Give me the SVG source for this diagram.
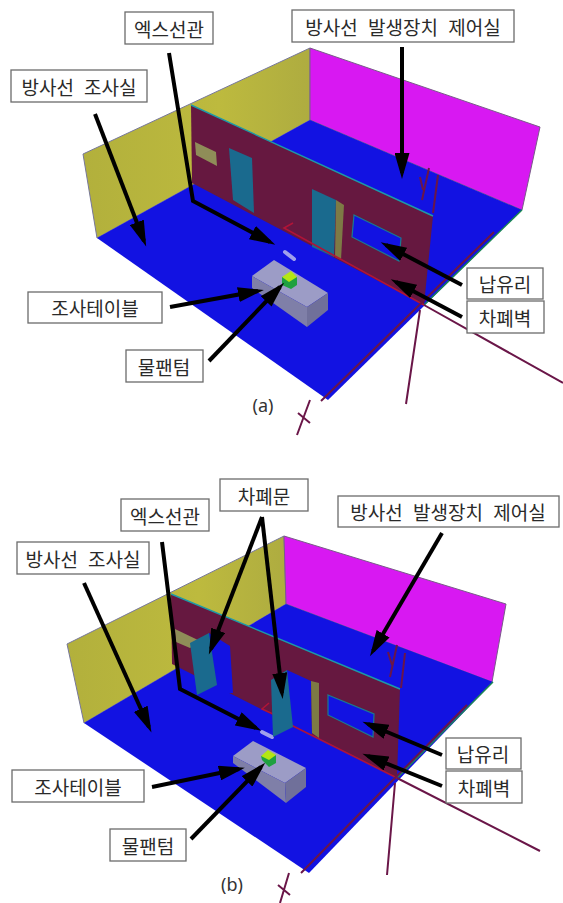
<svg xmlns="http://www.w3.org/2000/svg" width="563" height="903" viewBox="0 0 563 903">
<style>
.box{fill:#fff;stroke:#6b6b6b;stroke-width:1.3}
.t{font-family:"Noto Sans CJK KR","Noto Sans",sans-serif;font-size:19px;fill:#2a2a2a;text-anchor:middle;dominant-baseline:central;word-spacing:6px}
.cap{font-family:"Noto Sans","Liberation Sans",sans-serif;font-size:18px;fill:#333;text-anchor:middle;dominant-baseline:central}
.floor{fill:#1212e2}
.yellow{fill:url(#gy);stroke:#77779a;stroke-width:1}
.mag{fill:#d818f2;stroke:#7a5a8a;stroke-width:1}
.wall{fill:#661840}
.door{fill:#1a6a8e}
.olive{fill:#8f8d58}
.strip{fill:#7d7a45}
.hole{fill:#1212e2;stroke:#1a7a90;stroke-width:1.2}
.top{fill:#9c9cc6}.front{fill:#7f7fa8}.side{fill:#70709a}
.py{fill:#b4e614}.pg{fill:#1fa040}
.tube{stroke:#a0a0ec;stroke-width:4;stroke-linecap:round;fill:none}
.m{stroke:#6a1648;stroke-width:2;fill:none}
.r{stroke:#b01438;stroke-width:1.6;fill:none}
.edge{stroke:#1c9aa8;stroke-width:1.4;fill:none}
.g{stroke:#1a8a50;stroke-width:1.4;fill:none}
.a{stroke:#000;stroke-width:4;fill:none;marker-end:url(#ah)}
</style>
<defs>
<linearGradient id="gy" x1="0" y1="0" x2="1" y2="0"><stop offset="0" stop-color="#b2b03c"/><stop offset="0.6" stop-color="#bdba3e"/><stop offset="1" stop-color="#aeac40"/></linearGradient>
<marker id="ah" markerUnits="userSpaceOnUse" markerWidth="28" markerHeight="15" refX="20" refY="7.5" orient="auto"><path d="M0 0L26 7.5L0 15Z" fill="#000"/></marker>
</defs>

<g id="scene-a">
<polygon class="yellow" points="83,154 310,48 310,120 97,238"/>
<polygon class="mag" points="310,48 540,127 522,210 310,120"/>
<polygon class="floor" points="97,238 310,120 522,210 328,400"/>
<path class="g" d="M522,210L424,305"/>
<polygon class="wall" points="191,105 433,216 424,305 192,183"/>
<path class="edge" d="M191,105L433,216"/>
<polygon class="olive" points="195,142 216,152 217,166 196,155"/>
<polygon class="door" points="229,148 252,158 254,213 233,200"/>
<polygon class="door" points="312,189 336,200 334,257 312,247"/>
<polygon class="strip" points="336,200 344,205 341,260 335,257"/>
<polygon class="hole" points="354,215 401,238 399,261 352,237"/>
<path class="r" d="M293,223L284,228L424,305"/>
<path class="m" d="M494,232L321,401M420,310L406,404M424,305L563,383M310,400L297,435M298,413L310,423M429,168L422,200M420,177L423,190M438,175L433,213"/>
<path class="tube" d="M285,252L294,259"/>
<polygon class="top" points="252,276 274,260 328,293 307,307"/>
<polygon class="front" points="252,276 307,307 307,327 252,288"/>
<polygon class="side" points="307,307 328,293 328,310 307,327"/>
<polygon class="pg" points="282,277 297,277 297,285 291,289 282,285"/>
<polygon class="py" points="282,277 291,271 297,277 289,282"/>
</g>

<g id="scene-b">
<polygon class="yellow" points="67,644 284,536 286,604 84,723"/>
<polygon class="mag" points="284,536 506,604 492,682 286,604"/>
<polygon class="floor" points="84,723 286,604 493,682 309,873"/>
<path class="g" d="M493,682L397,778"/>
<polygon class="wall" points="171,594 400,689 397,778 172,664"/>
<path class="edge" d="M171,594L400,689"/>
<polygon class="olive" points="175,629 200,641 190,648 176,642"/>
<polygon class="floor" points="209,633 230,646 233,693 200,693"/>
<polygon class="floor" points="287,670 311,681 312,735 291,725"/>
<polygon class="strip" points="311,681 319,683 319,738 312,733"/>
<polygon class="hole" points="328,695 374,714 373,737 328,715"/>
<path class="r" d="M269,703L262,709L273,714M291,725L397,778"/>
<path class="m" d="M467,705L301,873M395,783L387,875M397,778L540,851M289,873L280,903M278,885L290,895M397,645L390,677M388,652L392,665M405,653L401,688"/>
<polygon class="door" points="190,643 209,633 217,685 197,695"/>
<path class="tube" d="M262,732L272,737"/>
<polygon class="door" points="271,680 287,670 293,727 273,737"/>
<polygon class="top" points="233,756 253,741 306,768 285,783"/>
<polygon class="front" points="233,756 285,783 286,803 233,763"/>
<polygon class="side" points="285,783 306,768 306,787 286,803"/>
<polygon class="pg" points="261,756 276,755 276,763 269,767 262,760"/>
<polygon class="py" points="261,756 268,750 276,755 269,760"/>
</g>

<g id="connectors">
<path class="a" d="M402,47L402,173"/>
<path class="a" d="M169,53L193,201L270,242"/>
<path class="a" d="M95,114L144,241"/>
<path class="a" d="M170,307L258,291"/>
<path class="a" d="M209,361L280,287"/>
<path class="a" d="M462,285L386,245"/>
<path class="a" d="M462,317L396,282"/>
<path class="a" d="M442,533L373,651"/>
<path class="a" d="M262,517L211,649"/>
<path class="a" d="M262,517L282,693"/>
<path class="a" d="M162,542L180,689L256,728"/>
<path class="a" d="M84,583L149,727"/>
<path class="a" d="M152,787L239,769"/>
<path class="a" d="M191,839L261,767"/>
<path class="a" d="M442,755L368,724"/>
<path class="a" d="M442,786L368,756"/>
</g>

<g id="a-tube"><rect class="box" x="125" y="12" width="88" height="32"/><text class="t" x="169" y="28">엑스선관</text></g>
<g id="a-control"><rect class="box" x="292" y="10" width="222" height="32"/><text class="t" x="403" y="26">방사선 발생장치 제어실</text></g>
<g id="a-room"><rect class="box" x="11" y="70" width="136" height="32"/><text class="t" x="79" y="86">방사선 조사실</text></g>
<g id="a-table"><rect class="box" x="28" y="292" width="134" height="31"/><text class="t" x="95" y="307">조사테이블</text></g>
<g id="a-phantom"><rect class="box" x="126" y="350" width="77" height="32"/><text class="t" x="164" y="366">물팬텀</text></g>
<g id="a-glass"><rect class="box" x="467" y="268" width="76" height="31"/><text class="t" x="505" y="283">납유리</text></g>
<g id="a-shield"><rect class="box" x="467" y="301" width="77" height="32"/><text class="t" x="505" y="317">차폐벽</text></g>
<g id="a-caption"><text class="cap" x="263" y="405">(a)</text></g>

<g id="b-door"><rect class="box" x="220" y="479" width="88" height="32"/><text class="t" x="264" y="495">차폐문</text></g>
<g id="b-tube"><rect class="box" x="121" y="499" width="88" height="32"/><text class="t" x="165" y="515">엑스선관</text></g>
<g id="b-room"><rect class="box" x="17" y="542" width="132" height="32"/><text class="t" x="83" y="558">방사선 조사실</text></g>
<g id="b-control"><rect class="box" x="338" y="496" width="221" height="31"/><text class="t" x="448" y="511">방사선 발생장치 제어실</text></g>
<g id="b-table"><rect class="box" x="12" y="770" width="132" height="32"/><text class="t" x="78" y="786">조사테이블</text></g>
<g id="b-phantom"><rect class="box" x="110" y="829" width="76" height="32"/><text class="t" x="148" y="845">물팬텀</text></g>
<g id="b-glass"><rect class="box" x="446" y="738" width="75" height="31"/><text class="t" x="483" y="753">납유리</text></g>
<g id="b-shield"><rect class="box" x="446" y="771" width="76" height="32"/><text class="t" x="484" y="787">차폐벽</text></g>
<g id="b-caption"><text class="cap" x="232" y="884">(b)</text></g>
</svg>
